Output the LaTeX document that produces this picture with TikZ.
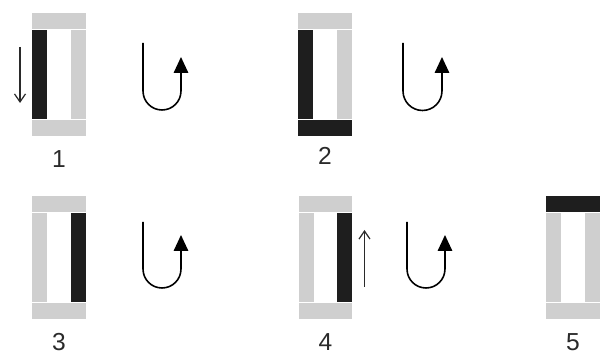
\documentclass[tikz,border=0pt]{standalone}
\usepackage{fontspec}
\setmainfont{Liberation Sans}
\usetikzlibrary{positioning,arrows.meta}
\definecolor{barGrey}{HTML}{CFCFCF}
\definecolor{barDark}{HTML}{1E1E1E}
\definecolor{lineDark}{HTML}{2A2A2A}
\tikzset{
  rail/.style={inner sep=0pt, outer sep=0pt, minimum width=1.08cm, minimum height=0.32cm},
  post/.style={inner sep=0pt, outer sep=0pt, minimum width=0.3cm, minimum height=1.77cm},
  cold/.style={fill=barGrey},
  hot/.style={fill=barDark},
  num/.style={font=\fontsize{14pt}{16pt}\selectfont, text=lineDark, inner sep=0pt},
  slide/.style={-{Straight Barb[length=1.6mm,width=2.2mm]}, line width=0.7pt, lineDark},
  turn/.style={-{Triangle[length=3.2mm,width=2.9mm]}, line width=0.9pt, black},
}

\begin{document}
\begin{tikzpicture}[x=0.02cm, y=-0.02cm]
  \useasboundingbox (0,0) rectangle (600,358);

  % frame 1
  \node[rail, cold] (t1) at (59,21) {};
  \node[post, hot, anchor=north west] (l1) at ([yshift=-0.03cm]t1.south west) {};
  \node[post, cold, anchor=north east] (r1) at ([yshift=-0.03cm]t1.south east) {};
  \node[rail, cold, anchor=north west] (b1) at ([yshift=-0.03cm]l1.south west) {};
  \node[num, below=2.8mm of b1] (n1) {1};
  \draw[slide] ([shift={(-12,16.5)}]l1.north west) -- ([shift={(-12,-16)}]l1.south west);
  \draw[turn] (143,43) -- ++(0,48) arc[start angle=180, end angle=360, radius=0.38cm] -- ++(0,-34);

  % frame 2
  \node[rail, cold] (t2) at (325,21) {};
  \node[post, hot, anchor=north west] (l2) at ([yshift=-0.03cm]t2.south west) {};
  \node[post, cold, anchor=north east] (r2) at ([yshift=-0.03cm]t2.south east) {};
  \node[rail, hot, anchor=north west] (b2) at ([yshift=-0.03cm]l2.south west) {};
  \node[num, below=2.2mm of b2] (n2) {2};
  \draw[turn] (403,43) -- ++(0,48) arc[start angle=180, end angle=360, radius=0.39cm] -- ++(0,-34);

  % frame 3
  \node[rail, cold] (t3) at (59,204) {};
  \node[post, cold, anchor=north west] (l3) at ([yshift=-0.03cm]t3.south west) {};
  \node[post, hot, anchor=north east] (r3) at ([yshift=-0.03cm]t3.south east) {};
  \node[rail, cold, anchor=north west] (b3) at ([yshift=-0.03cm]l3.south west) {};
  \node[num, below=2.8mm of b3] (n3) {3};
  \draw[turn] (143,222) -- ++(0,47) arc[start angle=180, end angle=360, radius=0.38cm] -- ++(0,-34);

  % frame 4
  \node[rail, cold] (t4) at (325.5,204) {};
  \node[post, cold, anchor=north west] (l4) at ([yshift=-0.03cm]t4.south west) {};
  \node[post, hot, anchor=north east] (r4) at ([yshift=-0.03cm]t4.south east) {};
  \node[rail, cold, anchor=north west] (b4) at ([yshift=-0.03cm]l4.south west) {};
  \node[num, below=2.8mm of b4] (n4) {4};
  \draw[slide] ([shift={(12,-15)}]r4.south east) -- ([shift={(12,16.5)}]r4.north east);
  \draw[turn] (407,222) -- ++(0,47) arc[start angle=180, end angle=360, radius=0.38cm] -- ++(0,-34);

  % frame 5
  \node[rail, hot] (t5) at (573,204) {};
  \node[post, cold, anchor=north west] (l5) at ([yshift=-0.03cm]t5.south west) {};
  \node[post, cold, anchor=north east] (r5) at ([yshift=-0.03cm]t5.south east) {};
  \node[rail, cold, anchor=north west] (b5) at ([yshift=-0.03cm]l5.south west) {};
  \node[num, below=2.8mm of b5] (n5) {5};
\end{tikzpicture}
\end{document}
